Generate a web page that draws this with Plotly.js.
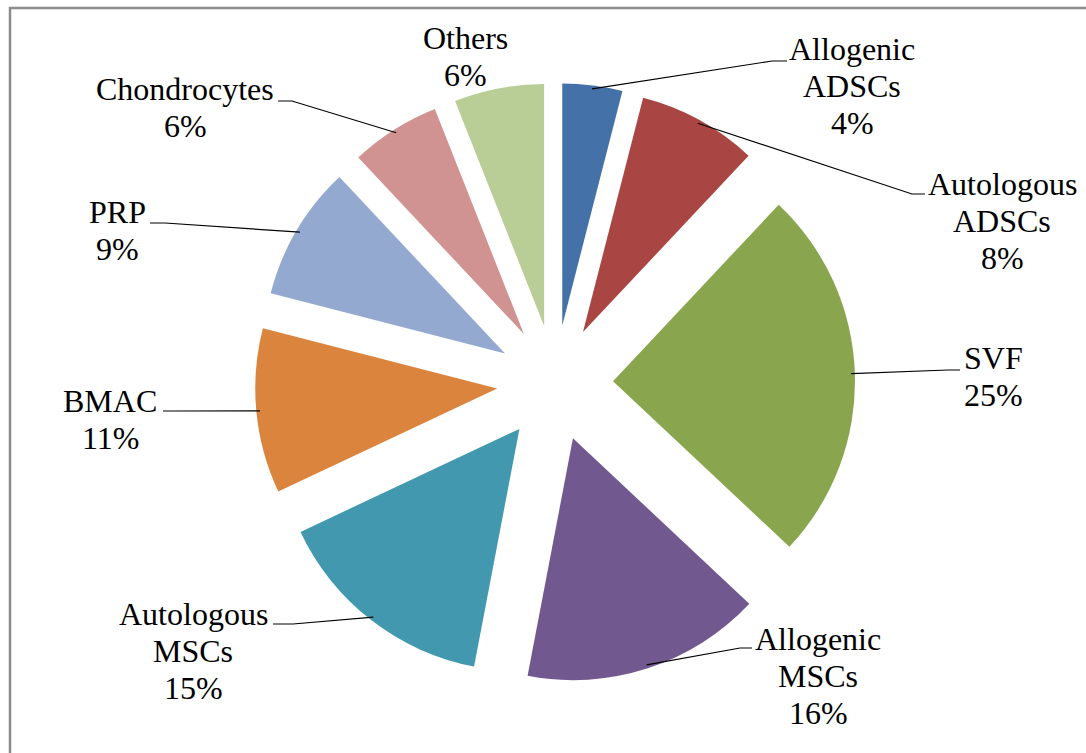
<!DOCTYPE html>
<html>
<head>
<meta charset="utf-8">
<script src="https://cdn.plot.ly/plotly-3.0.1.min.js"></script>
<style>html,body{margin:0;padding:0;background:#fff;}#chart{width:1086px;height:753px;}</style>
</head>
<body>
<div id="chart"></div>
<script>
// ---- data ----
const categories = ["Allogenic ADSCs", "Autologous ADSCs", "SVF", "Allogenic MSCs", "Autologous MSCs", "BMAC", "PRP", "Chondrocytes", "Others"];
const labelLines = [["Allogenic", "ADSCs"], ["Autologous", "ADSCs"], ["SVF"], ["Allogenic", "MSCs"], ["Autologous", "MSCs"], ["BMAC"], ["PRP"], ["Chondrocytes"], ["Others"]];
const values = [4, 8, 25, 16, 15, 11, 9, 6, 6];
const colors = ["#4472A8", "#A94542", "#89A54E", "#71588F", "#4198AF", "#DB843D", "#93A9CF", "#D19392", "#B9CD96"];

// ---- layout geometry ----
const W = 1086, H = 753;
const M = {l: 255, r: 231, t: 83, b: 70};
const PULL = 0.24;
const FS = 32;
const LINE_H = 36.7;
const FONT = "Liberation Serif";
const pw = W - M.l - M.r, ph = H - M.t - M.b;
const cx = M.l + pw / 2, cy = M.t + ph / 2;
const R = Math.min(pw, ph) / (2 + 2 * PULL);
const toPx = (px) => (px - M.l) / pw;
const toPy = (py) => 1 - (py - M.t) / ph;

// label placement (centre x, first baseline y) and leader start/elbow in pixels
const labelPos = [[852, 60], [1002, 195], [993, 369], [818, 650], [193, 625], [110, 412], [117, 223], [185, 100], [465, 49]];
const leaderStart = [[787, 61], [925, 194], [960, 370], [752, 648], [273, 624], [163, 411], [150, 223], [278, 101], null];
const leaderElbow = [[772, 61], [912, 194], [948, 370], [740, 648], [293, 624], [175, 411], [165, 223], [292, 101], null];

const total = values.reduce((a, b) => a + b, 0);
const pct = values.map(v => Math.round(v / total * 100) + "%");

const annotations = [];
const shapes = [];
let cum = 0;
values.forEach((v, i) => {
  const mid = (cum + v / 2) / total;
  cum += v;
  const th = 2 * Math.PI * mid;
  const s = Math.sin(th), c = Math.cos(th);
  const pcx = cx + PULL * R * s, pcy = cy - PULL * R * c;
  const tx = pcx + 0.985 * R * s, ty = pcy - 0.985 * R * c;
  const lines = labelLines[i].concat([pct[i]]);
  lines.forEach((t, k) => {
    const base = labelPos[i][1] + k * LINE_H;
    annotations.push({
      xref: "paper", yref: "paper",
      x: toPx(labelPos[i][0]), y: toPy(base - 0.33 * FS),
      xanchor: "center", yanchor: "middle",
      text: t, showarrow: false,
      font: {family: FONT, size: FS, color: "#000"}
    });
  });
  if (leaderStart[i]) {
    const p = "M " + toPx(leaderStart[i][0]) + " " + toPy(leaderStart[i][1]) +
              " L " + toPx(leaderElbow[i][0]) + " " + toPy(leaderElbow[i][1]) +
              " L " + toPx(tx) + " " + toPy(ty);
    shapes.push({type: "path", xref: "paper", yref: "paper", path: p, line: {color: "#000", width: 1.2}, layer: "above"});
  }
});

// chart area border (top and left visible)
shapes.push({type: "rect", xref: "paper", yref: "paper",
  x0: toPx(10), y0: toPy(8), x1: toPx(W + 20), y1: toPy(H + 20),
  line: {color: "#8c8c8c", width: 2.5}, fillcolor: "rgba(0,0,0,0)", layer: "below"});

const trace = {
  type: "pie",
  labels: categories,
  values: values,
  sort: false,
  direction: "clockwise",
  rotation: 0,
  pull: values.map(() => PULL),
  marker: {colors: colors, line: {width: 0}},
  textinfo: "none",
  hoverinfo: "label+percent",
  showlegend: false
};

const layout = {
  width: W, height: H,
  margin: {l: M.l, r: M.r, t: M.t, b: M.b, pad: 0},
  paper_bgcolor: "#fff",
  font: {family: FONT},
  showlegend: false,
  annotations: annotations,
  shapes: shapes
};

Plotly.newPlot("chart", [trace], layout, {displayModeBar: false, staticPlot: true});
</script>
</body>
</html>
